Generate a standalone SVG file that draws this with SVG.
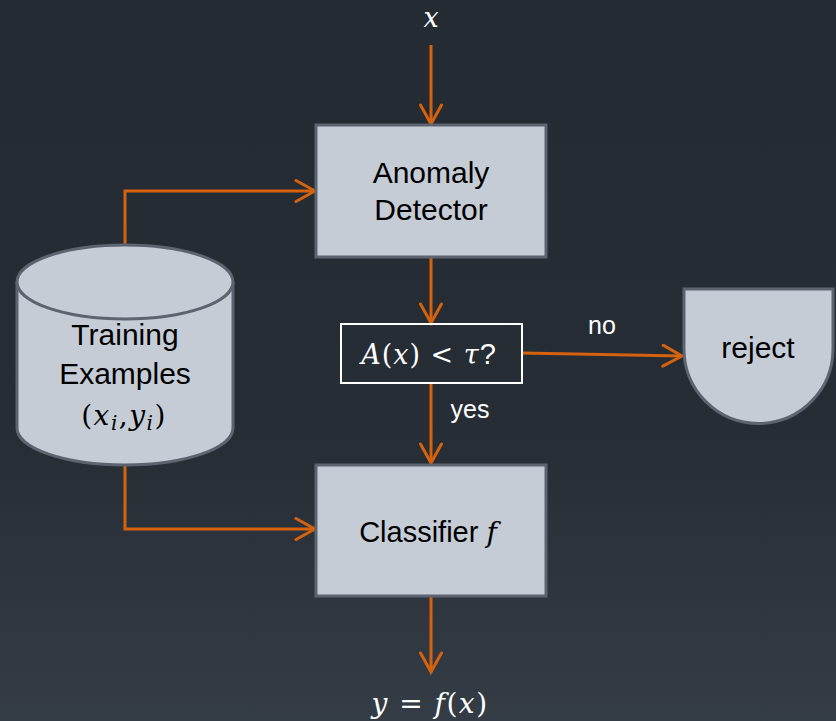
<svg xmlns="http://www.w3.org/2000/svg" width="836" height="721" viewBox="0 0 836 721">
<defs>
<linearGradient id="bg" x1="0" y1="0" x2="0" y2="1">
<stop offset="0" stop-color="#252b33"/>
<stop offset="0.6" stop-color="#272d35"/>
<stop offset="1" stop-color="#343c46"/>
</linearGradient>
<marker id="arr" viewBox="0 0 24 24" refX="21" refY="12" markerWidth="24" markerHeight="24" markerUnits="userSpaceOnUse" orient="auto">
<path d="M2,1.5 L21,12 L2,22.5" fill="none" stroke="#d4620f" stroke-width="3" stroke-linecap="round" stroke-linejoin="miter"/>
</marker>
<style>
.box{fill:#c5ccd6;stroke:#5d6470;stroke-width:3}
.lbl{font-family:"Liberation Sans",Arial,sans-serif;font-size:30px;fill:#000;text-anchor:middle}
.wl{font-family:"Liberation Sans",Arial,sans-serif;font-size:25px;fill:#fff;text-anchor:middle}
.m{font-family:"DejaVu Serif","Liberation Serif",serif;font-style:italic}
.mn{font-family:"DejaVu Serif","Liberation Serif",serif;font-style:normal}
.conn{fill:none;stroke:#d4620f;stroke-width:3;marker-end:url(#arr)}
</style>
</defs>
<rect x="0" y="0" width="836" height="721" fill="url(#bg)"/>

<g id="connectors">
<path class="conn" d="M431,45 V124"/>
<path class="conn" d="M125,244 V191 H315"/>
<path class="conn" d="M125,466 V529 H315"/>
<path class="conn" d="M431,257 V323"/>
<path class="conn" d="M431,383 V463"/>
<path class="conn" d="M522,353 L682,356"/>
<path class="conn" d="M431,597 V672"/>
</g>

<g id="input-x">
<text x="431" y="27" font-size="27" fill="#fff" text-anchor="middle" class="m">x</text>
</g>

<g id="anomaly-detector">
<rect class="box" x="316" y="125" width="230" height="132"/>
<text class="lbl" x="431" y="183">Anomaly</text>
<text class="lbl" x="431" y="220">Detector</text>
</g>

<g id="training-examples">
<path class="box" d="M17,282 V428 A108,37 0 0 0 233,428 V282"/>
<ellipse class="box" cx="125" cy="282" rx="108" ry="37"/>
<text class="lbl" x="125" y="345">Training</text>
<text class="lbl" x="125" y="384">Examples</text>
<text x="124" y="425" font-size="28" fill="#000" text-anchor="middle" letter-spacing="1.5"><tspan class="mn">(</tspan><tspan class="m">x</tspan><tspan class="m" font-size="20" dy="5">i</tspan><tspan class="mn" dy="-5">,</tspan><tspan class="m">y</tspan><tspan class="m" font-size="20" dy="5">i</tspan><tspan class="mn" dy="-5">)</tspan></text>
</g>

<g id="decision">
<rect x="341" y="324" width="181" height="59" fill="none" stroke="#ffffff" stroke-width="2"/>
<text x="429" y="364" font-size="27" fill="#fff" text-anchor="middle" letter-spacing="1"><tspan class="m">A</tspan><tspan class="mn">(</tspan><tspan class="m">x</tspan><tspan class="mn">) &lt; </tspan><tspan class="m">τ</tspan><tspan font-family="Liberation Sans, sans-serif" font-size="29">?</tspan></text>
</g>

<g id="reject">
<path class="box" d="M684,289 H833 V349 A74.5,74.5 0 0 1 684,349 Z"/>
<text class="lbl" x="758" y="358" font-size="27">reject</text>
</g>

<g id="labels">
<text class="wl" x="602" y="334">no</text>
<text class="wl" x="470" y="418">yes</text>
</g>

<g id="classifier">
<rect class="box" x="316" y="465" width="230" height="131"/>
<text x="428" y="542" font-size="29" fill="#000" text-anchor="middle"><tspan font-family="Liberation Sans, Arial, sans-serif">Classifier </tspan><tspan class="m" font-size="28">f</tspan></text>
</g>

<g id="output-y">
<text x="430" y="713" font-size="28" fill="#fff" text-anchor="middle" letter-spacing="1.5"><tspan class="m">y</tspan><tspan class="mn"> = </tspan><tspan class="m">f</tspan><tspan class="mn">(</tspan><tspan class="m">x</tspan><tspan class="mn">)</tspan></text>
</g>
</svg>
